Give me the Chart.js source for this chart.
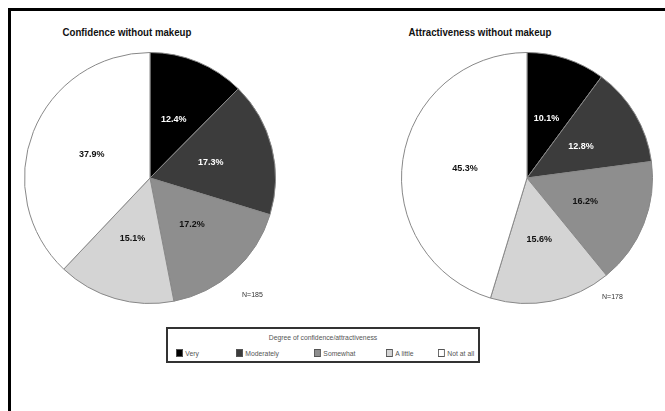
<!DOCTYPE html>
<html lang="en">
<head>
    <meta charset="UTF-8">
    <title>Confidence and attractiveness without makeup</title>
    <style>
        body {
            margin: 0;
            width: 665px;
            height: 411px;
            background: #fff;
            position: relative;
            overflow: hidden;
            font-family: 'Liberation Sans', Arial, sans-serif;
        }

        .frame {
            position: absolute;
            left: 8px;
            top: 8px;
            width: 700px;
            height: 450px;
            border-left: 3px solid #000;
            border-top: 3px solid #000;
        }

        .title {
            position: absolute;
            top: 26px;
            width: 260px;
            text-align: center;
            font-weight: bold;
            font-size: 11.5px;
            color: #111;
            transform: scaleX(0.84);
        }

        .pie {
            position: absolute;
            top: 52px;
            width: 252px;
            height: 252px;
        }

        .n {
            position: absolute;
            font-size: 7px;
            color: #333;
        }

        .legend {
            position: absolute;
            left: 166px;
            top: 327px;
            width: 310px;
            height: 32px;
            border: 2px solid #333;
            font-size: 8px;
            color: #555;
        }

        .legend .head {
            text-align: center;
            margin-top: 4px;
            transform: scaleX(0.85);
        }

        .legend .item {
            position: absolute;
            top: 20px;
            white-space: nowrap;
            transform: scaleX(0.85);
            transform-origin: left center;
        }

        .legend .sw {
            display: inline-block;
            width: 6px;
            height: 6px;
            border: 1px solid #555;
            margin-right: 3px;
            vertical-align: -1px;
        }
    </style>
</head>
<body>
    <div class="frame"></div>

    <div class="title" style="left:-3px">Confidence without makeup</div>
    <div class="title" style="left:350px">Attractiveness without makeup</div>

    <div class="pie" style="left:24px"><canvas id="confChart"></canvas></div>
    <div class="pie" style="left:401px"><canvas id="attrChart"></canvas></div>

    <div class="n" style="left:242px; top:291px">N=185</div>
    <div class="n" style="left:602px; top:293px">N=178</div>

    <div class="legend" id="legend">
        <div class="head">Degree of confidence/attractiveness</div>
    </div>

    <script src="https://cdn.jsdelivr.net/npm/chart.js"></script>
    <script>
        const categories = ['Very', 'Moderately', 'Somewhat', 'A little', 'Not at all'];
        const confidence = [12.4, 17.3, 17.2, 15.1, 37.9];
        const attractiveness = [10.1, 12.8, 16.2, 15.6, 45.3];

        const fills = ['#000000', '#3c3c3c', '#8e8e8e', '#d4d4d4', '#ffffff'];
        const labelColors = ['#ffffff', '#ffffff', '#111111', '#111111', '#111111'];
        const legendX = [8, 68, 146, 218, 270];

        // percentage labels in the middle of each slice
        const sliceLabels = {
            id: 'sliceLabels',
            afterDatasetsDraw(chart) {
                const ctx = chart.ctx;
                const meta = chart.getDatasetMeta(0);
                ctx.save();
                ctx.font = 'bold 9px "Liberation Sans", Arial, sans-serif';
                ctx.textAlign = 'center';
                ctx.textBaseline = 'middle';
                meta.data.forEach((arc, i) => {
                    const p = arc.getCenterPoint();
                    ctx.fillStyle = labelColors[i];
                    ctx.fillText(chart.data.datasets[0].data[i].toFixed(1) + '%', p.x, p.y);
                });
                ctx.restore();
            }
        };

        function makePie(id, values) {
            new Chart(document.getElementById(id), {
                type: 'pie',
                data: {
                    labels: categories,
                    datasets: [{
                        data: values,
                        backgroundColor: fills,
                        borderColor: '#888888',
                        borderWidth: 1
                    }]
                },
                options: {
                    responsive: true,
                    maintainAspectRatio: false,
                    animation: false,
                    layout: { padding: 0 },
                    plugins: {
                        legend: { display: false },
                        tooltip: { enabled: false }
                    }
                },
                plugins: [sliceLabels]
            });
        }

        makePie('confChart', confidence);
        makePie('attrChart', attractiveness);

        // shared legend
        const legend = document.getElementById('legend');
        categories.forEach((c, i) => {
            const el = document.createElement('div');
            el.className = 'item';
            el.style.left = legendX[i] + 'px';
            el.innerHTML = '<span class="sw" style="background:' + fills[i] + '"></span>' + c;
            legend.appendChild(el);
        });
    </script>
</body>
</html>
